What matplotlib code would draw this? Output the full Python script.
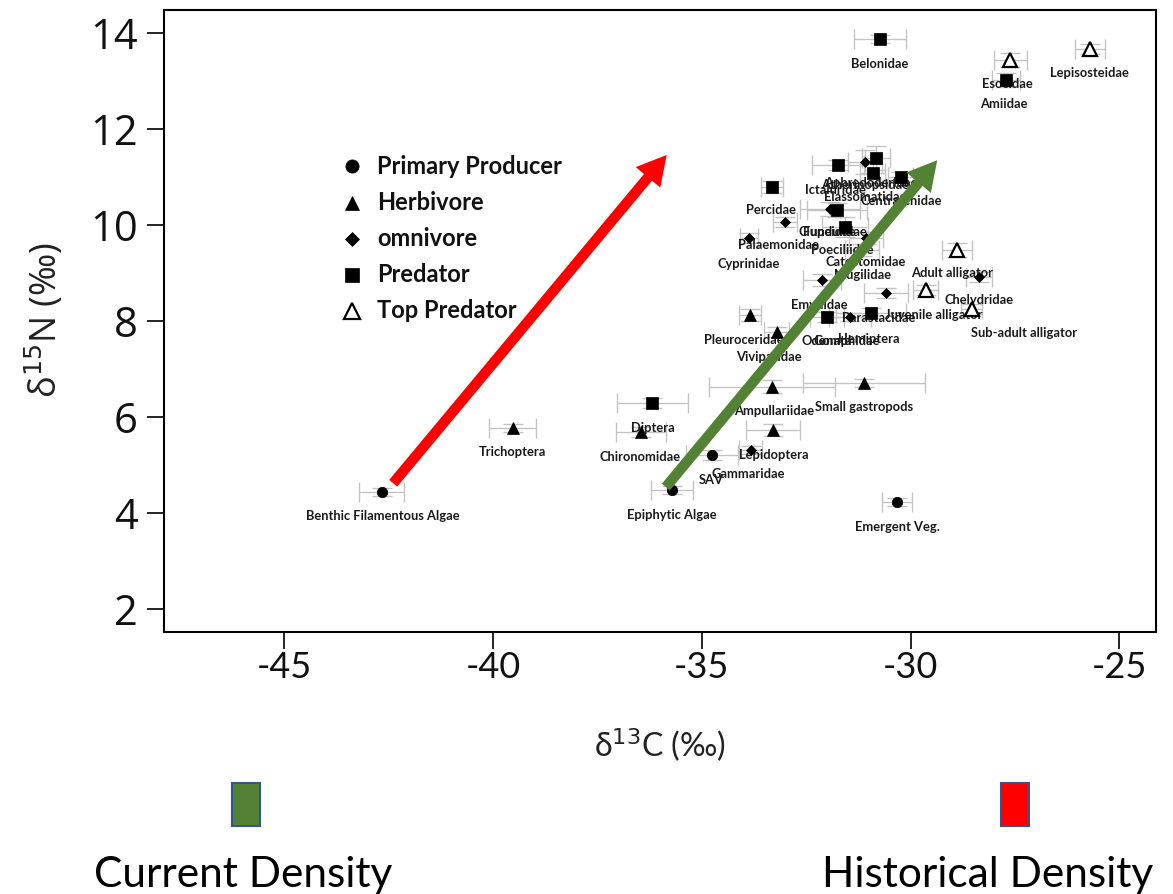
import matplotlib
matplotlib.use("Agg")
import matplotlib.pyplot as plt
from matplotlib.patches import FancyArrowPatch, Rectangle

plt.rcParams["axes.unicode_minus"] = False

# ---------------- data ----------------
taxa = ["Benthic Filamentous Algae", "Epiphytic Algae", "SAV", "Emergent Veg.",
        "Trichoptera", "Chironomidae", "Lepidoptera", "Ampullariidae", "Small gastropods",
        "Pleuroceridae", "Viviparidae",
        "Gammaridae", "Palaemonidae", "Cyprinidae", "Clupeidae", "Catostomidae", "Mugilidae",
        "Emydidae", "Parastacidae", "Gomphidae", "Atherinopsidae", "Chelydridae",
        "Hemiptera", "Odonata", "Ictaluridae", "Aphredoderidae", "Elassomatidae", "Centrarchidae",
        "Percidae", "Fundulidae", "Poeciliidae", "Belonidae", "Amiidae", "Diptera",
        "Esocidae", "Lepisosteidae", "Adult alligator", "Juvenile alligator", "Sub-adult alligator"]
group = ["Primary Producer"] * 4 + ["Herbivore"] * 7 + ["omnivore"] * 11 + ["Predator"] * 12 + ["Top Predator"] * 5
d13C = [-42.67, -35.72, -34.76, -30.32,
        -39.53, -36.46, -33.30, -33.32, -31.12, -33.85, -33.20,
        -33.83, -33.01, -33.87, -31.93, -31.07, -31.16, -32.12, -30.59, -31.45, -31.09, -28.36,
        -30.95, -32.00, -31.74, -30.83, -30.90, -30.23, -33.32, -31.76, -31.57, -30.73, -27.71, -36.18,
        -27.61, -25.70, -28.88, -29.63, -28.53]
d15N = [4.44, 4.48, 5.21, 4.23,
        5.77, 5.69, 5.73, 6.63, 6.71, 8.13, 7.77,
        5.31, 10.06, 9.73, 10.33, 9.73, 9.48, 8.85, 8.58, 8.08, 11.31, 8.92,
        8.17, 8.08, 11.25, 11.40, 11.08, 11.00, 10.79, 10.31, 9.96, 13.87, 13.02, 6.29,
        13.44, 13.67, 9.48, 8.65, 8.25]
sd13C = [0.53, 0.50, 0.62, 0.36,
         0.57, 0.60, 0.65, 1.50, 1.46, 0.26, 0.30,
         0.27, 0.28, 0.22, 0.72, 0.40, 0.40, 0.45, 0.52, 0.50, 0.40, 0.30,
         0.84, 0.40, 0.62, 0.34, 0.30, 0.30, 0.26, 0.72, 0.55, 0.63, 0.33, 0.84,
         0.40, 0.36, 0.36, 0.30, 0.25]
sd15N = [0.08, 0.08, 0.10, 0.08,
         0.08, 0.10, 0.12, 0.14, 0.08, 0.12, 0.10,
         0.08, 0.10, 0.10, 0.15, 0.12, 0.12, 0.12, 0.10, 0.08, 0.25, 0.10,
         0.10, 0.10, 0.10, 0.25, 0.20, 0.10, 0.12, 0.15, 0.20, 0.08, 0.15, 0.10,
         0.15, 0.10, 0.15, 0.10, 0.10]
# label offsets (pixels) relative to each point
label_dx = [1, 0, -1, 0, 0, -1, 1, 2, 0, -6, -8, -2, -6, 0, -3, 0, 0, -3, -7, -3, 0, 0,
            -2, 0, -2, -5, -8, 0, -1, -2, -3, 0, -2, 0, -3, -1, -5, 8, 52]
label_dy = [24, 25, 25, 25, 24, 25, 25, 24, 24, 25, 25, 24, 23, 26, 23, 24, 25, 25, 25, 24, 23, 23,
            26, 24, 25, 25, 24, 24, 23, 22, 23, 25, 24, 25, 24, 24, 23, 25, 24]

legend_groups = ["Primary Producer", "Herbivore", "omnivore", "Predator", "Top Predator"]

# trend arrows (start x, start y, end x, end y) in data units
historical_arrow = [-42.39, 4.62, -35.84, 11.46]
current_arrow = [-35.86, 4.54, -29.36, 11.35]

# ---------------- style ----------------
styles = {
    "Primary Producer": dict(marker="o", ms=7.5, mfc="black", mec="black", mew=0.5),
    "Herbivore": dict(marker="^", ms=8.5, mfc="black", mec="black", mew=0.5),
    "omnivore": dict(marker="D", ms=5.5, mfc="black", mec="black", mew=0.5),
    "Predator": dict(marker="s", ms=8, mfc="black", mec="black", mew=0.5),
    "Top Predator": dict(marker="^", ms=10, mfc="white", mec="black", mew=1.6),
}
legend_ms = {"Primary Producer": 9.5, "Herbivore": 10.5, "omnivore": 7, "Predator": 9.5, "Top Predator": 12}

LBL = ["Lato", "DejaVu Sans"]

fig = plt.figure(figsize=(11.73, 8.94), dpi=100)
fig.patch.set_facecolor("white")
ax = fig.add_axes([164 / 1173, 1 - 632 / 894, (1156 - 164) / 1173, 622 / 894])

ax.errorbar(d13C, d15N, xerr=sd13C, yerr=sd15N, fmt="none", ecolor="#c4c4c4",
            elinewidth=1.0, capsize=7, capthick=1.0, zorder=1)

for g in legend_groups:
    xs = [x for x, gg in zip(d13C, group) if gg == g]
    ys = [y for y, gg in zip(d15N, group) if gg == g]
    ax.plot(xs, ys, linestyle="none", zorder=3, **styles[g])

for name, x, y, dx, dy in zip(taxa, d13C, d15N, label_dx, label_dy):
    ax.annotate(name, (x, y), xytext=(dx, -dy), textcoords="offset pixels",
                ha="center", va="center", fontsize=9.3, fontweight="bold",
                family=LBL, color="#1a1a1a", zorder=2)

ax.set_xlim(-47.88, -24.12)
ax.set_ylim(1.52, 14.48)
ax.set_xticks([-45, -40, -35, -30, -25])
ax.set_yticks([2, 4, 6, 8, 10, 12, 14])
ax.tick_params(direction="out", length=12, width=1.2, top=False, right=False)
ax.tick_params(axis="y", pad=7)
ax.tick_params(axis="x", pad=2)
for lab in ax.get_yticklabels():
    lab.set_fontsize(30)
    lab.set_family(["Open Sans", "DejaVu Sans"])
    lab.set_color("#111111")
for lab in ax.get_xticklabels():
    lab.set_fontsize(26)
    lab.set_family(LBL)
    lab.set_color("#111111")
for sp in ax.spines.values():
    sp.set_linewidth(1.5)

fig.text(45 / 1173, 1 - 320 / 894, "δ$^{15}$N (‰)", rotation=90, ha="center", va="center",
         fontsize=26, family=["Open Sans", "DejaVu Sans"], color="#222222")
fig.text(660 / 1173, 1 - 745 / 894, "δ$^{13}$C (‰)", ha="center", va="center",
         fontsize=23, family=LBL, color="#222222")

# legend (manual)
leg_y = [166, 203, 239, 275, 311]
for g, py in zip(legend_groups, leg_y):
    yf = (632 - py) / 622
    st = dict(styles[g])
    st["ms"] = legend_ms[g]
    ax.plot([(352 - 164) / 992], [yf], transform=ax.transAxes, linestyle="none", zorder=4, **st)
    ax.text((377 - 164) / 992, yf, g, transform=ax.transAxes, ha="left", va="center",
            fontsize=17, fontweight="bold", family=LBL, color="#111111", zorder=4)

# arrows
for arr, col in [(historical_arrow, "#ff0000"), (current_arrow, "#548235")]:
    p = FancyArrowPatch((arr[0], arr[1]), (arr[2], arr[3]),
                        arrowstyle="simple,head_length=2.1,head_width=2.3,tail_width=0.75",
                        mutation_scale=10, color=col, lw=0, shrinkA=0, shrinkB=0, zorder=6)
    ax.add_patch(p)

# bottom bars and captions
for x0, fc in [(232, "#548235"), (1001, "#ff0000")]:
    fig.patches.append(Rectangle((x0 / 1173, 1 - 826 / 894), 28 / 1173, 43 / 894,
                                 transform=fig.transFigure, facecolor=fc,
                                 edgecolor="#2f5597", lw=1.5, zorder=2))
fig.text(243 / 1173, 1 - 887 / 894, "Current Density", ha="center", va="baseline",
         fontsize=30.5, family=LBL, color="black")
fig.text(988 / 1173, 1 - 887 / 894, "Historical Density", ha="center", va="baseline",
         fontsize=30.5, family=LBL, color="black")

fig.savefig("out.png", dpi=100, facecolor="white")
